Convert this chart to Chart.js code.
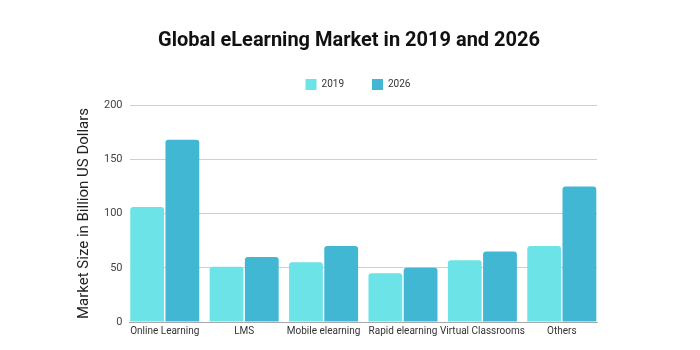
<!DOCTYPE html>
<html>
<head>
<meta charset="utf-8">
<script src="https://cdn.jsdelivr.net/npm/chart.js@4/dist/chart.umd.min.js"></script>
<style>
  html, body { margin: 0; padding: 0; background: #fff; }
  #wrap { width: 700px; height: 350px; }
</style>
</head>
<body>
<div id="wrap"><canvas id="marketChart"></canvas></div>
<script>
// Data
const categories = ['Online Learning', 'LMS', 'Mobile elearning', 'Rapid elearning', 'Virtual Classrooms', 'Others'];
const values2019 = [106, 51, 55, 45, 57, 70];
const values2026 = [168, 60, 70, 50, 65, 125];
const yTicks = [0, 50, 100, 150, 200];

const FONT = "'Roboto', sans-serif";

// bar groups sit flush against both plot edges, so the x axis is a
// numeric index axis trimmed to half a group width past the first/last index
const GROUP = 0.887;
const xMin = -GROUP / 2;
const xMax = categories.length - 1 + GROUP / 2;

// title and legend sit centred on the page, not over the padded plot box
function shiftDraw(box, dx, dy) {
    const draw = box.draw;
    box.draw = function () {
        const c = this.ctx;
        c.save();
        c.translate(dx, dy);
        draw.apply(this, arguments);
        c.restore();
    };
}

const headerFix = {
    id: 'headerFix',
    beforeInit(chart) {
        const fit = chart.legend.fit;
        chart.legend.fit = function () {
            fit.bind(this)();
            this.height += 3;
        };
        shiftDraw(chart.legend, 24, -2);
        shiftDraw(chart.titleBlock, 15, 0);
    }
};

const toPoints = arr => arr.map((v, i) => ({ x: i, y: v }));

const ctx = document.getElementById('marketChart').getContext('2d');

const chart = new Chart(ctx, {
    type: 'bar',
    data: {
        datasets: [{
            label: '2019',
            data: toPoints(values2019),
            backgroundColor: '#6ce3e6',
            borderRadius: { topLeft: 3, topRight: 3 },
            borderSkipped: 'bottom',
            barPercentage: 0.96,
            categoryPercentage: GROUP
        }, {
            label: '2026',
            data: toPoints(values2026),
            backgroundColor: '#42b7d4',
            borderRadius: { topLeft: 3, topRight: 3 },
            borderSkipped: 'bottom',
            barPercentage: 0.96,
            categoryPercentage: GROUP
        }]
    },
    options: {
        responsive: true,
        maintainAspectRatio: false,
        animation: false,
        layout: { padding: { left: 71, right: 103, top: 29, bottom: 10 } },
        plugins: {
            title: {
                display: true,
                text: 'Global eLearning Market in 2019 and 2026',
                color: '#111',
                font: { family: FONT, size: 20, weight: 'bold' },
                padding: { top: 0, bottom: 0 }
            },
            legend: {
                display: true,
                position: 'top',
                labels: {
                    boxWidth: 11,
                    boxHeight: 11,
                    padding: 28,
                    color: '#333',
                    font: { family: FONT, size: 10 }
                }
            },
            tooltip: { enabled: false }
        },
        scales: {
            x: {
                type: 'linear',
                offset: false,
                min: xMin,
                max: xMax,
                afterBuildTicks: axis => { axis.ticks = categories.map((c, i) => ({ value: i })); },
                grid: { display: false, drawTicks: false, offset: false },
                border: { display: true, color: '#aaa', width: 1 },
                ticks: {
                    color: '#333',
                    font: { family: FONT, size: 10 },
                    padding: 3,
                    maxRotation: 0,
                    autoSkip: false,
                    callback: v => categories[v]
                }
            },
            y: {
                min: 0,
                max: 200,
                afterBuildTicks: axis => { axis.ticks = yTicks.map(v => ({ value: v })); },
                grid: { color: '#cfcfcf', drawTicks: false },
                border: { display: false },
                ticks: { color: '#444', font: { family: FONT, size: 11 }, padding: 7 },
                title: {
                    display: true,
                    text: 'Market Size in Billion US Dollars',
                    color: '#222',
                    font: { family: FONT, size: 15 },
                    padding: { bottom: 4 }
                }
            }
        }
    },
    plugins: [headerFix]
});
</script>
</body>
</html>
